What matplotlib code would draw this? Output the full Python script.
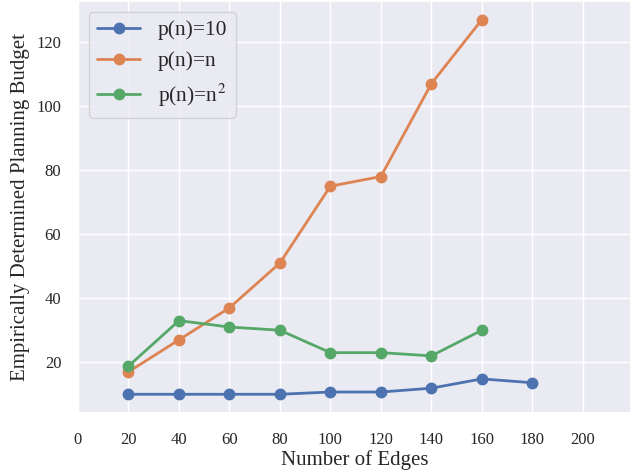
import matplotlib
matplotlib.use("Agg")
import matplotlib.pyplot as plt
import seaborn as sns

# edges vs. planning budget
edges_10 = [20, 40, 60, 80, 100, 120, 140, 160, 180]
budget_10 = [10, 10, 10, 10, 10.7, 10.7, 11.9, 14.8, 13.6]
edges_n = [20, 40, 60, 80, 100, 120, 140, 160]
budget_n = [17, 27, 37, 51, 75, 78, 107, 127]
edges_n2 = [20, 40, 60, 80, 100, 120, 140, 160]
budget_n2 = [18.8, 33, 31, 30, 23, 23, 22, 30]
labels = ["p(n)=10", "p(n)=n", "p(n)=n$^2$"]
xticks = list(range(0, 201, 20))

sns.set_theme(style="darkgrid")
plt.rcParams["font.family"] = ["Liberation Serif", "DejaVu Serif"]
plt.rcParams["mathtext.fontset"] = "stix"
cols = sns.color_palette("deep")

fig = plt.figure(figsize=(6.32, 4.74), dpi=100)
ax = fig.add_axes([0.1234, 0.1287, 0.8746, 0.8693])
for x, y, lab, c in zip([edges_10, edges_n, edges_n2], [budget_10, budget_n, budget_n2], labels, cols):
    ax.plot(x, y, marker="o", ms=7.5, lw=2, color=c, label=lab)

ax.set_xlim(0, 219)
ax.set_xticks(xticks)
ax.tick_params(axis="x", labelsize=12, pad=8)
ax.tick_params(axis="y", labelsize=12, pad=6)
ax.set_xlabel("Number of Edges", fontsize=15, labelpad=1)
ax.set_ylabel("Empirically Determined Planning Budget", fontsize=15, labelpad=5)
ax.legend(loc="upper left", fontsize=15.5, borderaxespad=0.5, labelspacing=0.5)
fig.savefig("out.png", dpi=100)
